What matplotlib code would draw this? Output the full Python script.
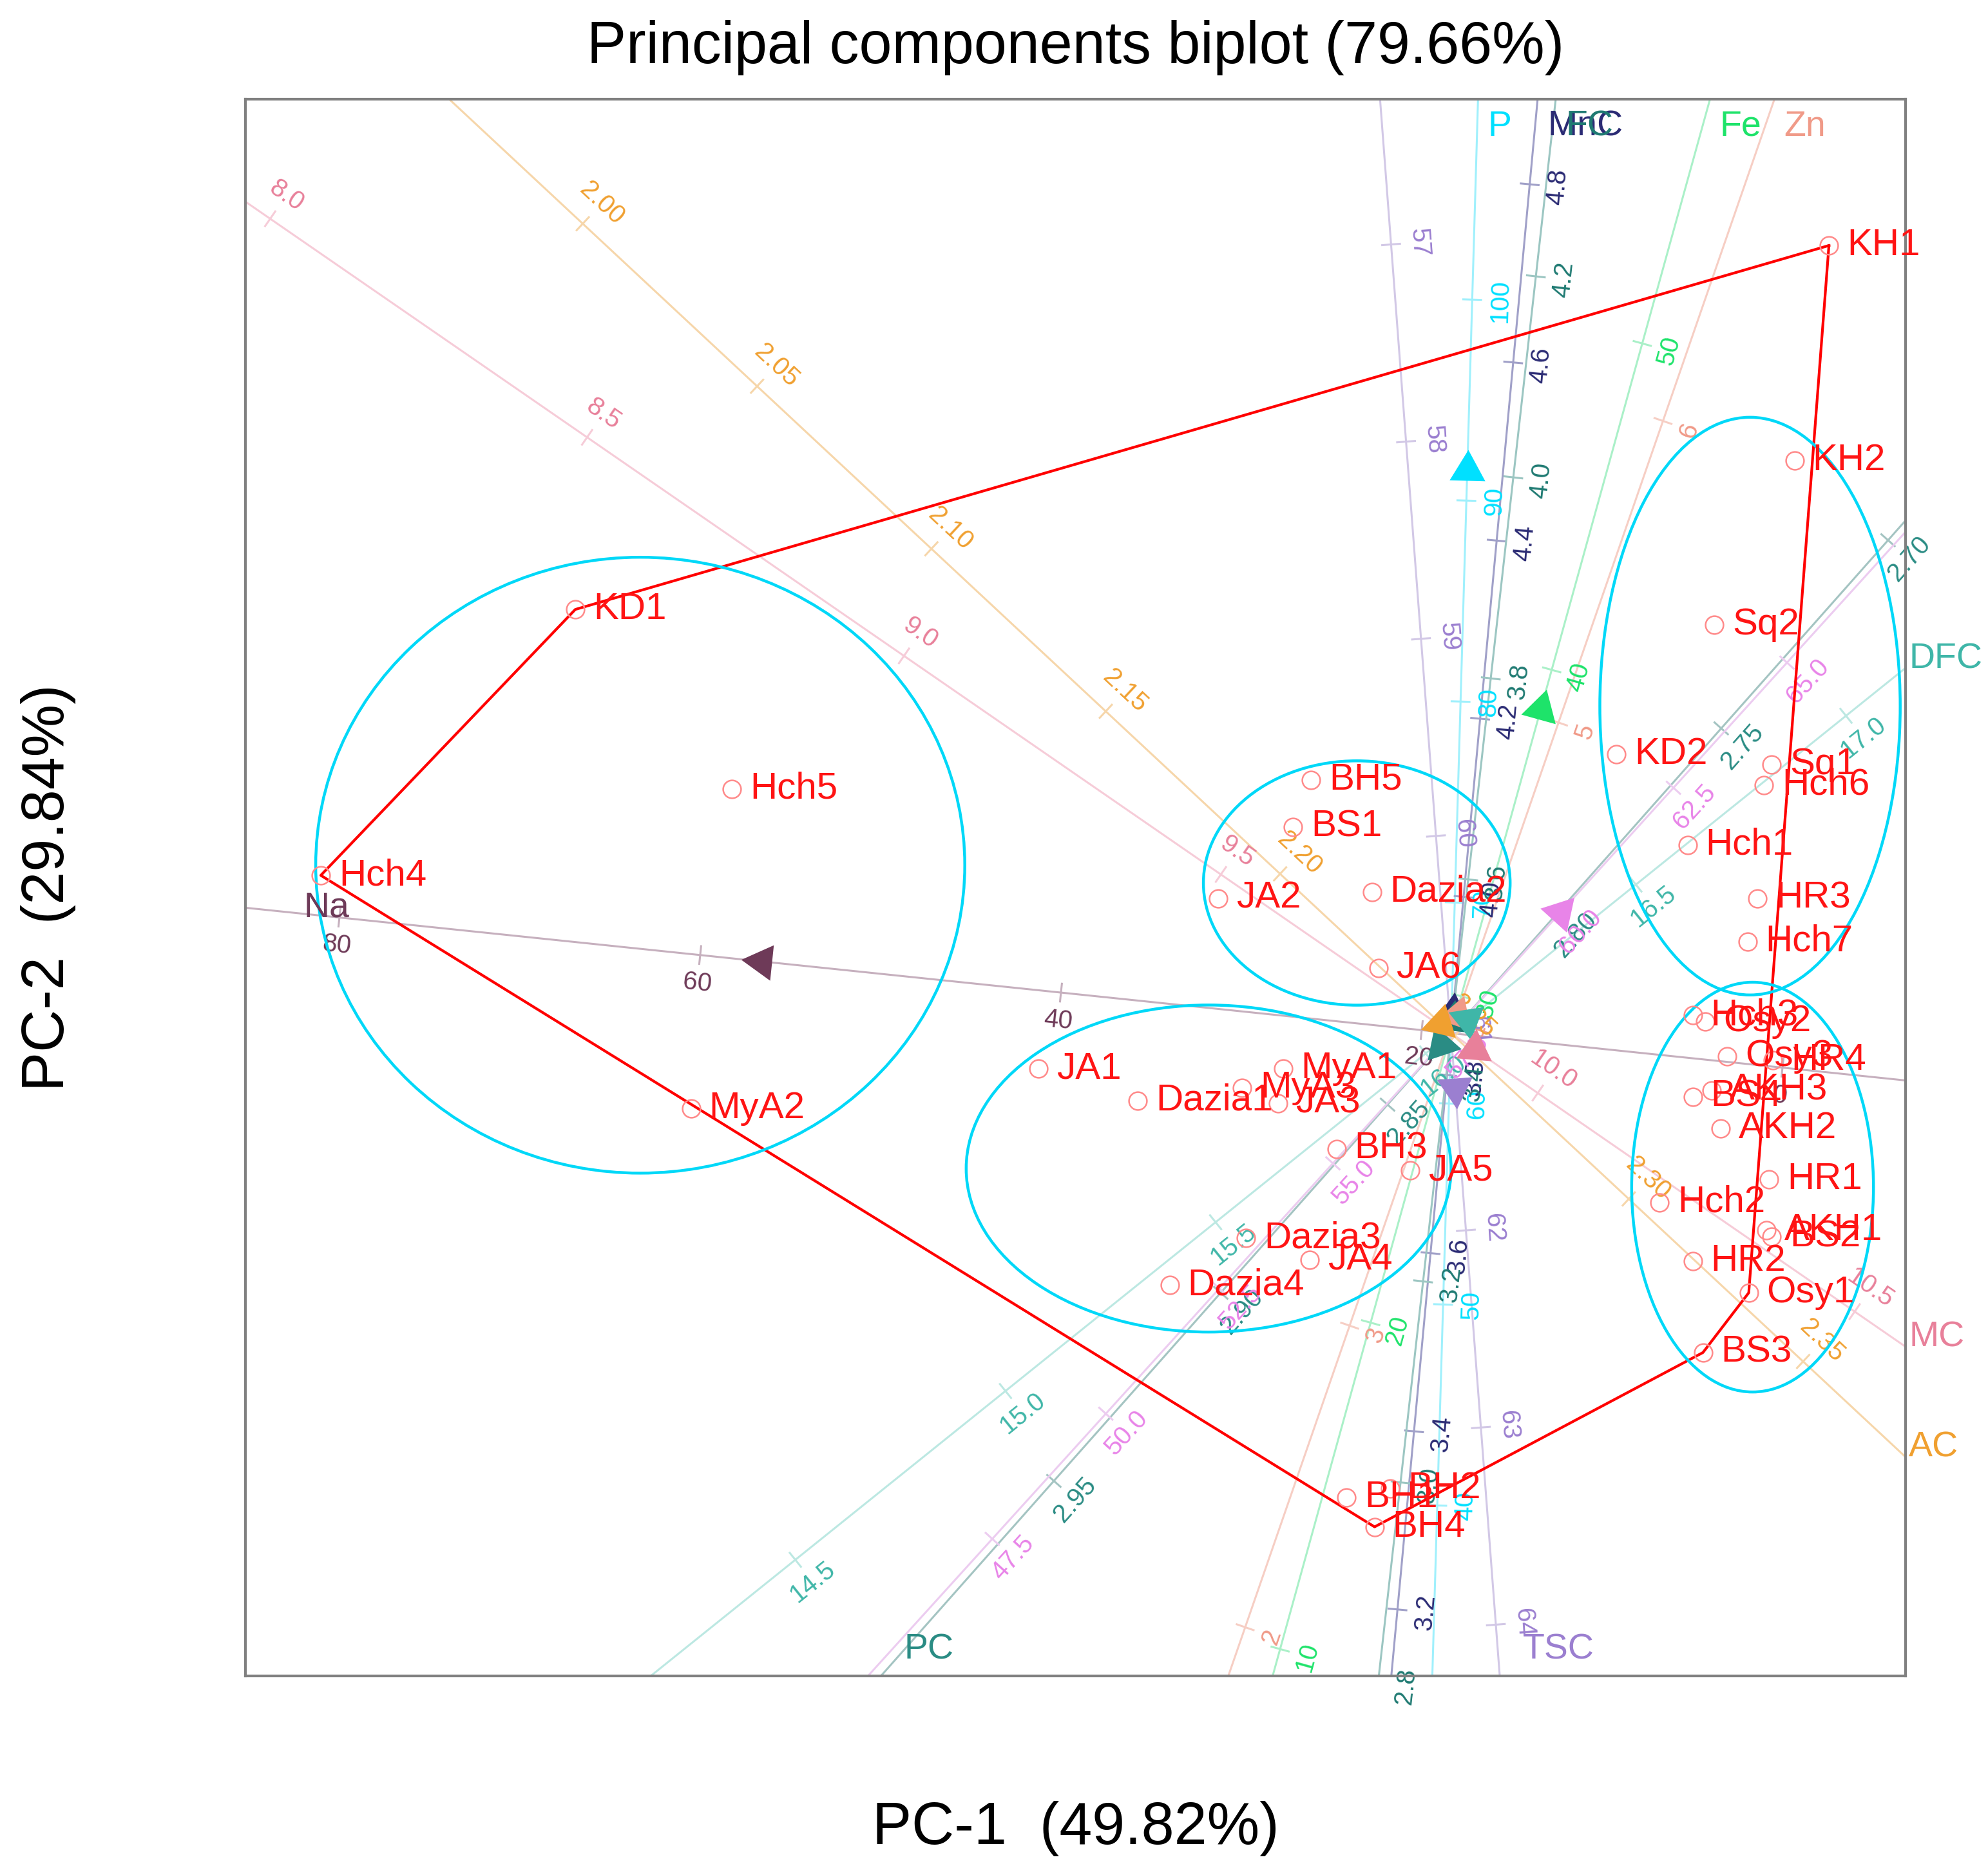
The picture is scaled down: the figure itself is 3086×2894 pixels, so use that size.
import numpy as np
import matplotlib
matplotlib.use("Agg")
import matplotlib.pyplot as plt
from matplotlib.patches import Ellipse

plt.rcParams['font.family'] = ['Liberation Sans', 'DejaVu Sans']

# sample scores (PC-1, PC-2)
sample_names = ["KH1", "KH2", "Sq2", "KD2", "Sq1", "Hch6", "Hch1", "HR3", "Hch7",
                "KD1", "Hch5", "Hch4", "MyA2",
                "BH5", "BS1", "JA2", "Dazia2", "JA6",
                "JA1", "Dazia1", "MyA1", "MyA3", "JA3", "BH3", "JA5", "Dazia3", "JA4", "Dazia4",
                "BH1", "BH2", "BH4",
                "Hch3", "Osy2", "Osy3", "HR4", "BS4", "AKH3", "AKH2", "HR1", "Hch2",
                "AKH1", "BS2", "HR2", "Osy1", "BS3"]
pc1 = [1.485, 1.350, 1.035, 0.650, 1.260, 1.230, 0.930, 1.205, 1.165,
       -3.440, -2.825, -4.440, -2.985,
       -0.550, -0.620, -0.915, -0.310, -0.285,
       -1.620, -1.230, -0.660, -0.820, -0.680, -0.450, -0.160, -0.805, -0.555, -1.105,
       -0.410, -0.240, -0.300,
       0.950, 1.000, 1.085, 1.265, 0.950, 1.025, 1.060, 1.250, 0.820,
       1.240, 1.260, 0.950, 1.170, 0.990]
pc2 = [3.095, 2.250, 1.605, 1.095, 1.055, 0.975, 0.740, 0.530, 0.360,
       1.665, 0.960, 0.620, -0.295,
       0.995, 0.810, 0.530, 0.555, 0.255,
       -0.140, -0.265, -0.140, -0.215, -0.275, -0.455, -0.540, -0.805, -0.890, -0.990,
       -1.825, -1.790, -1.940,
       0.070, 0.045, -0.090, -0.105, -0.250, -0.225, -0.375, -0.575, -0.665,
       -0.775, -0.800, -0.895, -1.020, -1.255]

hull_names = ["KH1", "Osy1", "BS3", "BH4", "Hch4", "KD1"]

# group ellipses
ell_x = [-3.185, -0.370, -0.952, 1.175, 1.185]
ell_y = [0.660, 0.590, -0.532, 1.285, -0.605]
ell_w = [2.550, 1.205, 1.905, 1.180, 0.950]
ell_h = [2.420, 0.960, 1.285, 2.270, 1.610]

# calibrated biplot axes
var_names = ["Na", "P", "MnC", "FC", "Fe", "Zn", "TSC", "DFC", "PC", "", "MC", "AC"]
var_angle = [174.06, 88.34, 84.7, 83.6, 74.5, 70.9, -85.66, 38.78, -131.56, 47.8, -34.6, -43.0]
var_mean = [18.38, 63.5, 3.847, 3.447, 28.87, 3.97, 61.0, 16.06, 2.831, 57.6, 9.863, 2.249]
var_scale = [0.07125, 0.0790, 3.515, 3.974, 0.1331, 1.254, 0.777, 2.118, 19.76, 0.2656, 3.025, 18.73]
var_ticks = [[0, 20, 40, 60, 80],
             [40, 50, 60, 70, 80, 90, 100],
             [3.2, 3.4, 3.6, 3.8, 4.0, 4.2, 4.4, 4.6, 4.8],
             [2.8, 3.0, 3.2, 3.4, 3.6, 3.8, 4.0, 4.2],
             [10, 20, 30, 40, 50],
             [2, 3, 4, 5, 6],
             [57, 58, 59, 60, 61, 62, 63, 64],
             [14.5, 15.0, 15.5, 16.0, 16.5, 17.0],
             [2.70, 2.75, 2.80, 2.85, 2.90, 2.95],
             [47.5, 50.0, 52.5, 55.0, 57.5, 60.0, 62.5, 65.0],
             [8.0, 8.5, 9.0, 9.5, 10.0, 10.5],
             [2.00, 2.05, 2.10, 2.15, 2.20, 2.25, 2.30, 2.35]]
var_dec = [0, 0, 1, 1, 0, 0, 0, 1, 2, 1, 1, 2]
var_marker = [56.6, 91.5, 3.87, 3.46, 38.8, 4.03, 61.28, 16.10, 2.834, 60.0, 9.90, 2.246]
var_side = [1, -1, -1, -1, -1, -1, 1, -1, 1, -1, 1, 1]
var_line_col = ["#c6b0be", "#a0f0fc", "#a0a0c8", "#9cc6c2", "#aaf0c8", "#f6cec4",
                "#d2c8e6", "#bce8e2", "#a4c4c2", "#ecccf0", "#f6ccd8", "#f6d6aa"]
var_text_col = ["#6e3a58", "#00e0ff", "#2b2b74", "#1f7a72", "#1ee36a", "#f09a88",
                "#9b7fd0", "#3fb6a8", "#2a8c84", "#e884e8", "#e8809a", "#f0a030"]

xlim = (-4.735, 1.785)
ylim = (-2.525, 3.67)

fig = plt.figure(figsize=(30.86, 28.94), dpi=100)
ax = fig.add_axes([0.1236, 0.1010, 0.8348, 0.8458])
ax.set_xlim(*xlim)
ax.set_ylim(*ylim)
ax.set_xticks([])
ax.set_yticks([])
for sp in ax.spines.values():
    sp.set_color("#808080")
    sp.set_linewidth(3)


def edge_hit(dx, dy):
    best = None
    for t, edge in [((xlim[1]) / dx if dx > 0 else np.inf, "right"),
                    ((xlim[0]) / dx if dx < 0 else np.inf, "left"),
                    ((ylim[1]) / dy if dy > 0 else np.inf, "top"),
                    ((ylim[0]) / dy if dy < 0 else np.inf, "bottom")]:
        if best is None or t < best[0]:
            best = (t, edge)
    return best[0] * dx, best[0] * dy, best[1]


edge_style = {"top": dict(ha="left", va="top", off=(11, -12)),
              "right": dict(ha="left", va="center", off=(4, 10)),
              "bottom": dict(ha="left", va="bottom", off=(26, 10)),
              "left": dict(ha="left", va="center", off=(65, 0))}

for i in range(len(var_names)):
    th = np.radians(var_angle[i])
    dx, dy = np.cos(th), np.sin(th)
    nx, ny = -dy, dx
    rot = var_angle[i]
    while rot > 90:
        rot -= 180
    while rot <= -90:
        rot += 180
    ax.plot([-20 * dx, 20 * dx], [-20 * dy, 20 * dy], color=var_line_col[i], lw=2.2, zorder=1)
    for v in var_ticks[i]:
        s = (v - var_mean[i]) * var_scale[i]
        px, py = s * dx, s * dy
        ax.plot([px - 0.035 * nx, px + 0.035 * nx], [py - 0.035 * ny, py + 0.035 * ny],
                color=var_line_col[i], lw=2.2, zorder=1)
        ax.text(px + var_side[i] * 0.11 * nx, py + var_side[i] * 0.11 * ny,
                f"{v:.{var_dec[i]}f}", rotation=rot, rotation_mode="anchor",
                ha="center", va="center", fontsize=29, color=var_text_col[i], zorder=2)
    s = (var_marker[i] - var_mean[i]) * var_scale[i]
    ax.plot(s * dx, s * dy, marker=(3, 0, var_angle[i] - 90), ms=46,
            color=var_text_col[i], mec="none", ls="none", zorder=4)
    if var_names[i]:
        ex, ey, edge = edge_hit(dx, dy)
        st = edge_style[edge]
        ax.annotate(var_names[i], (ex, ey), xytext=st["off"], textcoords="offset points",
                    ha=st["ha"], va=st["va"], fontsize=40, color=var_text_col[i],
                    annotation_clip=False, zorder=6)

# convex hull
hi = [sample_names.index(n) for n in hull_names]
hi.append(hi[0])
ax.plot([pc1[k] for k in hi], [pc2[k] for k in hi], color="#ff0000", lw=3, zorder=3)

# ellipses
for i in range(len(ell_x)):
    ax.add_patch(Ellipse((ell_x[i], ell_y[i]), ell_w[i], ell_h[i], fill=False,
                         ec="#00d8f8", lw=3.2, zorder=3))

# samples
ax.plot(pc1, pc2, "o", ms=20, mfc="none", mec="#ff8a8a", mew=1.8, ls="none", zorder=5)
for name, x, y in zip(sample_names, pc1, pc2):
    ax.annotate(name, (x, y), xytext=(20, 0), textcoords="offset points",
                ha="left", va="center", fontsize=42, color="#ff1414", zorder=6)

ax.set_title("Principal components biplot (79.66%)", fontsize=66, pad=40)
ax.set_xlabel("PC-1  (49.82%)", fontsize=66)
ax.set_ylabel("PC-2  (29.84%)", fontsize=66)
ax.xaxis.set_label_coords(0.5, -0.097)
ax.xaxis.label.set_va("center")
ax.yaxis.set_label_coords(-0.119, 0.5)
ax.yaxis.label.set_va("center")

fig.savefig("out.png", dpi=100)
